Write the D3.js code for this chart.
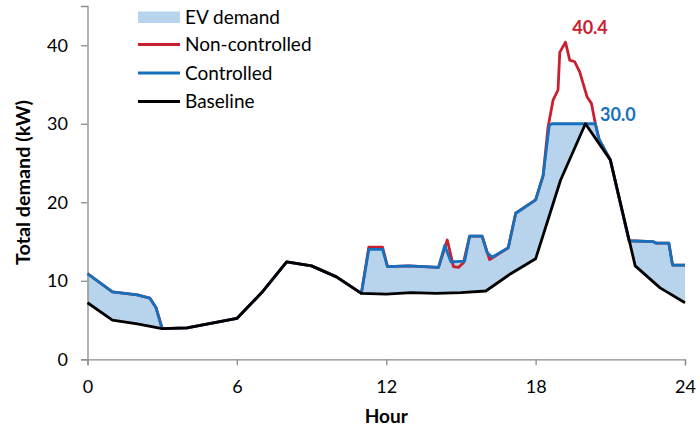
<!DOCTYPE html>
<html><head><meta charset="utf-8">
<script src="https://cdn.jsdelivr.net/npm/d3@7"></script>
<style>body{margin:0;background:#fff}svg{display:block;font-family:Lato,"Open Sans",sans-serif}</style>
</head><body>
<svg id="c" width="700" height="430"></svg>
<script>
// ---- data ----
const baseHours = [0,1,2,3,4,5,6,7,8,9,10,11,12,13,14,15,16,17,18,19,20,21,22,23,24];
const baseValues = [7.2,5.0,4.5,3.9,4.0,4.6,5.2,8.5,12.4,11.9,10.5,8.4,8.3,8.5,8.4,8.5,8.7,10.9,12.8,22.8,30.0,25.4,11.9,9.1,7.2];

const ctrlHours = [0,1,2,2.5,2.75,3,4,5,6,7,8,9,10,11,11.3,11.85,12.05,12.9,14.1,14.35,14.6,15.15,15.35,15.85,16.05,16.25,16.9,17.2,18.0,18.3,18.55,18.65,20.4,20.55,21.0,21.75,22.7,22.85,23.35,23.5,24];
const ctrlValues = [10.9,8.6,8.2,7.8,6.6,3.9,4.0,4.6,5.2,8.5,12.4,11.9,10.5,8.4,14.0,14.0,11.8,11.9,11.7,14.5,12.4,12.5,15.7,15.7,13.6,13.0,14.2,18.6,20.3,23.4,29.8,30.0,30.0,28.0,25.4,15.1,15.0,14.8,14.8,12.0,12.0];

const ncHours = [0,1,2,2.5,2.75,3,4,5,6,7,8,9,10,11,11.3,11.85,12.05,12.9,14.1,14.45,14.7,14.9,15.1,15.35,15.85,16.15,16.3,16.9,17.2,18.0,18.3,18.5,18.7,18.9,18.97,19.2,19.37,19.57,19.77,20.07,20.24,20.4,20.55,21.0,21.75,22.7,22.85,23.35,23.5,24];
const ncValues = [10.9,8.6,8.2,7.8,6.6,3.9,4.0,4.6,5.2,8.5,12.4,11.9,10.5,8.4,14.3,14.3,11.8,11.9,11.7,15.2,11.8,11.7,12.3,15.7,15.7,12.7,13.0,14.2,18.6,20.3,23.4,29.6,33.0,34.3,39.1,40.4,38.1,37.9,36.6,33.4,32.6,30.0,28.0,25.4,15.1,15.0,14.8,14.8,12.0,12.0];

const xTicks = [0,6,12,18,24];
const yTicks = [0,10,20,30,40];
const legendLabels = ["EV demand","Non-controlled","Controlled","Baseline"];
const peakLabels = ["40.4","30.0"];

// ---- drawing ----
const svg = d3.select("#c");
const x = d3.scaleLinear().domain([0,24]).range([87.5,685]);
const y = d3.scaleLinear().domain([0,45]).range([359.3,6]);
const axisCol = "#8c8c8c";
const cRed = "#c8202f", cBlue = "#1570bd", cFill = "#b8d3ec";

const pts = (h,v) => h.map((d,i)=>[d,v[i]]);
const base = pts(baseHours, baseValues);
const ctrl = pts(ctrlHours, ctrlValues);
const nc = pts(ncHours, ncValues);
const line = d3.line().x(d=>x(d[0])).y(d=>y(d[1]));

// EV demand fill polygon between controlled and baseline
const poly = ctrl.concat(base.slice().reverse());
svg.append("path").attr("d", line(poly)+"Z").attr("fill", cFill).attr("stroke","none");

// axes
const gx = svg.append("g").attr("transform",`translate(0,${y(0)})`)
  .call(d3.axisBottom(x).tickValues(xTicks).tickSize(6).tickPadding(15).tickFormat(d3.format("d")));
const gy = svg.append("g").attr("transform",`translate(${x(0)},0)`)
  .call(d3.axisLeft(y).tickValues(yTicks).tickSize(6.5).tickPadding(13).tickFormat(d3.format("d")));
[gx,gy].forEach(g=>{
  g.select(".domain").attr("stroke",axisCol).attr("stroke-width",1.3);
  g.selectAll(".tick line").attr("stroke",axisCol).attr("stroke-width",1.3);
  g.selectAll("text").attr("fill","#000").style("font-size","18px").style("font-family","Lato, sans-serif");
});

// lines
svg.append("path").attr("d", line(nc)).attr("fill","none").attr("stroke",cRed).attr("stroke-width",2.8).attr("stroke-linejoin","round");
svg.append("path").attr("d", line(ctrl)).attr("fill","none").attr("stroke",cBlue).attr("stroke-width",2.8).attr("stroke-linejoin","round");
svg.append("path").attr("d", line(base)).attr("fill","none").attr("stroke","#000").attr("stroke-width",2.8).attr("stroke-linejoin","round");

// peak labels
svg.append("text").attr("x",590).attr("y",34).attr("text-anchor","middle").attr("fill",cRed)
  .style("font-weight","bold").style("font-size","18px").text(peakLabels[0]);
svg.append("text").attr("x",600).attr("y",121).attr("text-anchor","start").attr("fill",cBlue)
  .style("font-weight","bold").style("font-size","18px").text(peakLabels[1]);

// axis titles
svg.append("text").attr("x",(x(0)+x(24))/2).attr("y",423).attr("text-anchor","middle")
  .style("font-weight","bold").style("font-size","19px").text("Hour");
svg.append("text").attr("transform",`translate(30,182.5) rotate(-90)`).attr("text-anchor","middle")
  .attr("textLength",165).attr("lengthAdjust","spacingAndGlyphs")
  .style("font-weight","bold").style("font-size","19px").text("Total demand (kW)");

// legend
const lg = svg.append("g");
const ly = [17,44.5,73,101.5];
lg.append("rect").attr("x",138).attr("y",11.5).attr("width",42).attr("height",11.5).attr("fill",cFill);
[[cRed,1],[cBlue,2],["#000",3]].forEach(([c,i])=>{
  lg.append("line").attr("x1",138).attr("x2",180).attr("y1",ly[i]).attr("y2",ly[i]).attr("stroke",c).attr("stroke-width",3);
});
legendLabels.forEach((t,i)=>{
  lg.append("text").attr("x",185).attr("y",ly[i]).attr("dy","0.36em").style("font-size","19px").text(t);
});
</script>
</body></html>
